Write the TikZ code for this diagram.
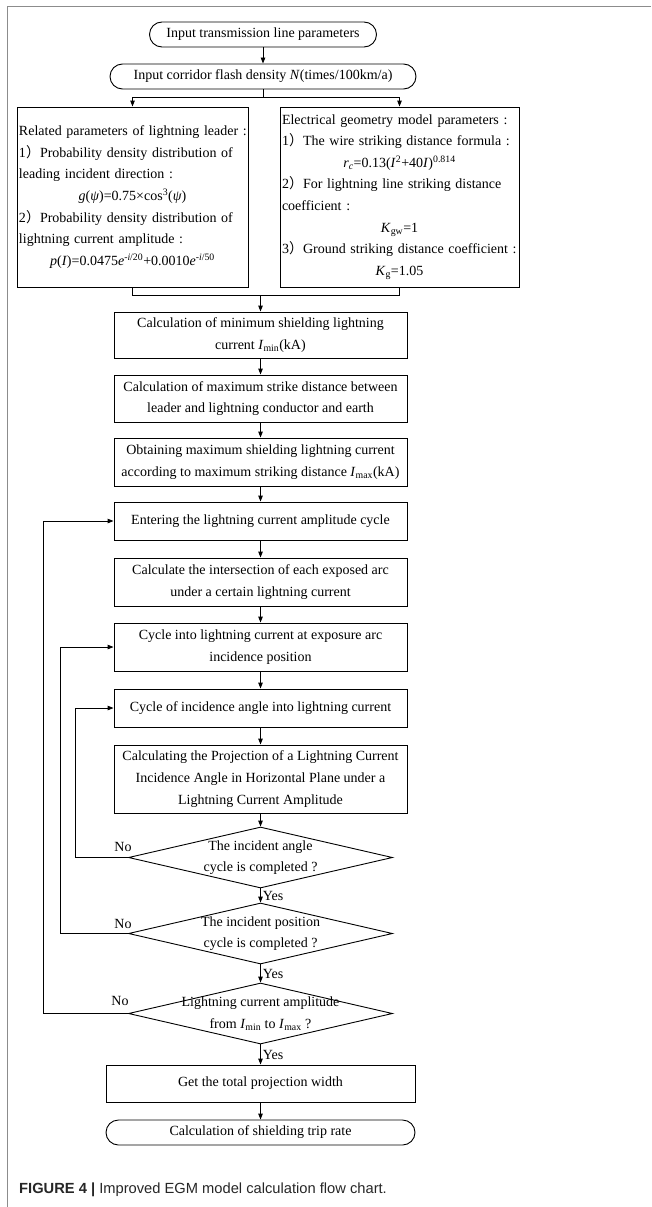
\documentclass[tikz,border=0pt]{standalone}
\usepackage{fontspec}
\setmainfont{Liberation Serif}
\newfontfamily\capfont{Liberation Sans}
\newfontfamily\cjk{Noto Sans CJK SC}
\usetikzlibrary{shapes.geometric,arrows.meta}

% full-width closing parenthesis used in the numbered items
\newcommand{\fwp}{{\cjk ）}}
% one line of a parameter box, flush left or centred
\newcommand{\lline}[1]{\makebox[\hsize][l]{#1}}
\newcommand{\mline}[1]{\makebox[\hsize][c]{#1}}

\begin{document}
\begin{tikzpicture}[x=1pt, y=-1pt,
            font=\fontsize{14}{21.6}\selectfont,
            process/.style={draw, line width=0.9pt, minimum width=293pt, align=center, inner sep=2pt},
            terminal/.style={draw, line width=0.9pt, rounded corners=12.5pt, minimum height=25pt, inner sep=2pt},
            decision/.style={diamond, draw, line width=0.9pt, minimum width=264pt, minimum height=61pt, inner sep=0pt},
            parambox/.style={draw, line width=0.9pt, minimum height=180pt, align=left, inner sep=2pt},
            arrow/.style={line width=0.9pt, -{Triangle[length=6pt, width=4.5pt]}},
            link/.style={line width=0.9pt},
            ans/.style={inner sep=2pt}
        ]

        \useasboundingbox (0,0) rectangle (651,1207);

        % Frame of the figure
        \draw[black!45, line width=1pt] (7.5,1207) -- (7.5,7) -- (651,7);

        % Input nodes
        \node[terminal, minimum width=227pt] (start) at (263,34.5) {Input transmission line parameters};
        \node[terminal, minimum width=306pt] (density) at (263,76.5) {Input corridor flash density \textit{N}(times/100km/a)};

        % Parameter boxes
        \node[parambox, text width=227pt] (leader) at (132.5,197) {\lline{Related parameters of lightning leader :}\\
            \lline{1\fwp Probability density distribution of}\\
            \lline{leading incident direction :}\\
            \mline{\textit{g}(\textit{ψ})=0.75×cos\textsuperscript{3}(\textit{ψ})}\\
            \lline{2\fwp Probability density distribution of}\\
            \lline{lightning current amplitude :}\\
            \mline{\textit{p}(\textit{I})=0.0475\textit{e}\textsuperscript{-\textit{i}/20}+0.0010\textit{e}\textsuperscript{-\textit{i}/50}}};
        \node[parambox, text width=235pt] (egm) at (399.5,197) {\lline{Electrical geometry model parameters :}\\
            \lline{1\fwp The wire striking distance formula :}\\
            \mline{\textit{r}\textsubscript{\textit{c}}=0.13(\textit{I}\textsuperscript{2}+40\textit{I})\textsuperscript{0.814}}\\
            \lline{2\fwp For lightning line striking distance}\\
            \lline{coefficient :}\\
            \mline{\textit{K}\textsubscript{gw}=1}\\
            \lline{3\fwp Ground striking distance coefficient :}\\
            \mline{\textit{K}\textsubscript{g}=1.05}};

        % Main column
        \node[process, minimum height=46pt] (minI) at (260.5,335) {Calculation of minimum shielding lightning\\current \textit{I}\textsubscript{min}(kA)};
        \node[process, minimum height=47pt] (dist) at (260.5,398.5) {Calculation of maximum strike distance between\\leader and lightning conductor and earth};
        \node[process, minimum height=48pt] (maxI) at (260.5,462) {Obtaining maximum shielding lightning current\\according to maximum striking distance \textit{I}\textsubscript{max}(kA)};
        \node[process, minimum height=38pt] (ampcyc) at (260.5,521) {Entering the lightning current amplitude cycle};
        \node[process, minimum height=48pt] (arcs) at (260.5,582) {Calculate the intersection of each exposed arc\\under a certain lightning current};
        \node[process, minimum height=48pt] (poscyc) at (260.5,647) {Cycle into lightning current at exposure arc\\incidence position};
        \node[process, minimum height=38pt] (angcyc) at (260.5,708) {Cycle of incidence angle into lightning current};
        \node[process, minimum height=68pt] (proj) at (260.5,779) {Calculating the Projection of a Lightning Current\\Incidence Angle in Horizontal Plane under a\\Lightning Current Amplitude};

        % Decisions
        \node[decision, label={[align=center]center:{The incident angle\\cycle is completed ?}}] (angdone) at (260.5,857.5) {};
        \node[decision, label={[align=center]center:{The incident position\\cycle is completed ?}}] (posdone) at (260.5,933.5) {};
        \node[decision, label={[align=center]center:{Lightning current amplitude\\from \textit{I}\textsubscript{min} to \textit{I}\textsubscript{max} ?}}] (ampdone) at (260.5,1013.5) {};

        % Output nodes
        \node[process, minimum width=309pt, minimum height=37pt] (width) at (260.5,1083.5) {Get the total projection width};
        \node[terminal, minimum width=309pt] (rate) at (260.5,1132.5) {Calculation of shielding trip rate};

        % Caption
        \node[anchor=west, inner sep=0pt, text=black!85, font=\capfont\fontsize{14.7}{17}\selectfont] (caption) at (19,1190) {\textbf{FIGURE 4 |} Improved EGM model calculation flow chart.};

        % Connectors
        \draw[arrow] (start) -- (density);
        \draw[arrow] (density.south) -- ++(0,8) -| (leader.north);
        \draw[arrow] (density.south) -- ++(0,8) -| (egm.north);
        \draw[link] (leader.south) -- ++(0,8) coordinate (join) -| (egm.south);
        \draw[arrow] (join -| minI) -- (minI);

        \foreach \a/\b in {minI/dist, dist/maxI, maxI/ampcyc, ampcyc/arcs, arcs/poscyc, poscyc/angcyc, angcyc/proj, proj/angdone, width/rate} {
                \draw[arrow] (\a) -- (\b);
            }

        \draw[arrow] (angdone) -- node[right, ans] {Yes} (posdone);
        \draw[arrow] (posdone) -- node[right, ans] {Yes} (ampdone);
        \draw[arrow] (ampdone) -- node[right, ans] {Yes} (width);

        % Loops back on "No"
        \draw[arrow] (angdone.west) node[anchor=south, xshift=-5pt, yshift=3pt, ans] {No} -- ++(-52.5,0) |- (angcyc.west);
        \draw[arrow] (posdone.west) node[anchor=south, xshift=-5pt, yshift=2.5pt, ans] {No} -- ++(-67.5,0) |- (poscyc.west);
        \draw[arrow] (ampdone.west) node[anchor=south, xshift=-8pt, yshift=5.5pt, ans] {No} -- ++(-84.5,0) |- (ampcyc.west);
    \end{tikzpicture}
\end{document}
